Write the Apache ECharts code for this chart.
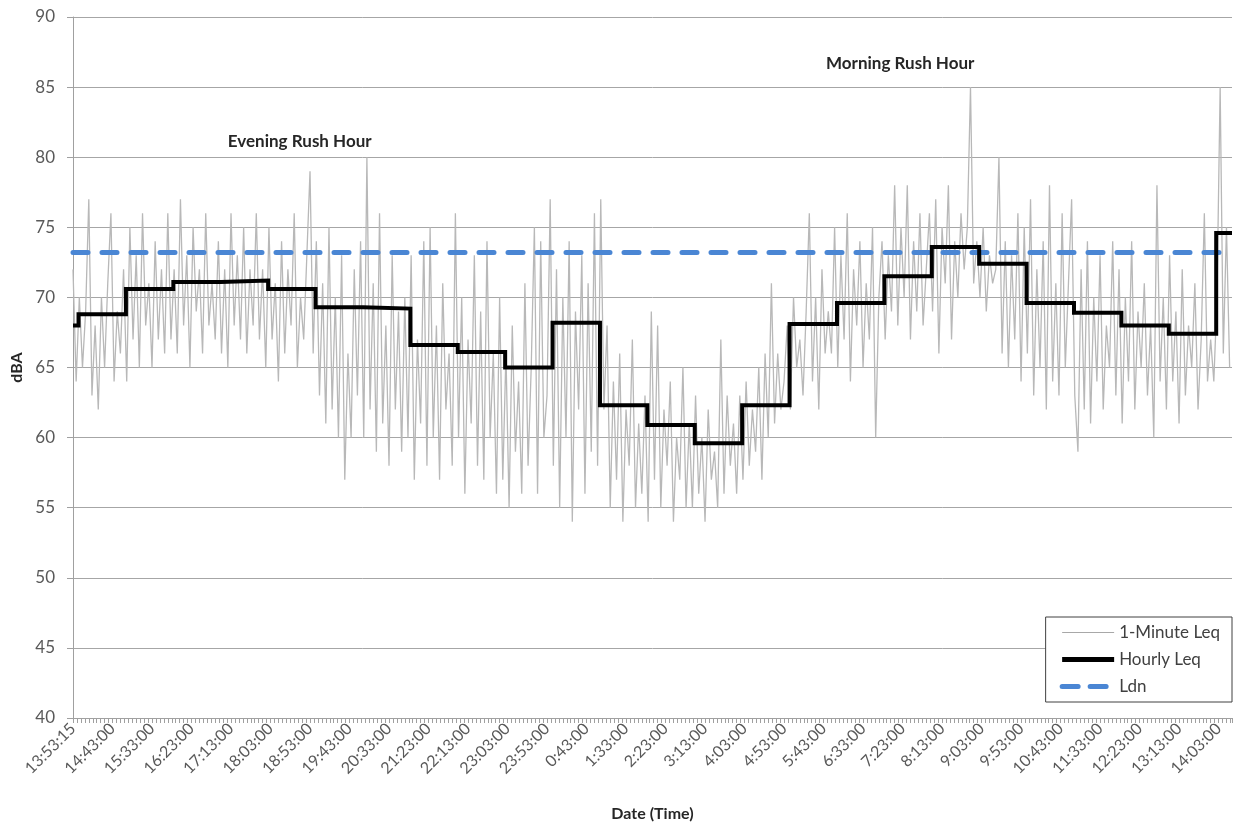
<!DOCTYPE html>
<html><head><meta charset="utf-8">
<script src="https://cdn.jsdelivr.net/npm/echarts@6/dist/echarts.min.js"></script>
<style>html,body{margin:0;padding:0;background:#fff}#c{width:1236px;height:823px}</style>
</head><body><div id="c"></div>
<script>
// x tick labels, one every 50 minutes from the start (13:53:15)
const tickLabels = ['13:53:15','14:43:00','15:33:00','16:23:00','17:13:00','18:03:00','18:53:00','19:43:00','20:33:00','21:23:00','22:13:00','23:03:00','23:53:00','0:43:00','1:33:00','2:23:00','3:13:00','4:03:00','4:53:00','5:43:00','6:33:00','7:23:00','8:13:00','9:03:00','9:53:00','10:43:00','11:33:00','12:23:00','13:13:00','14:03:00'];
const tickInterval = 50;      // minutes between labels
const xMaxMinute = 1467;      // end of axis, minutes after start
const sampleStep = 4;         // minutes between 1-minute Leq samples kept below

// 1-Minute Leq (dBA), every 4 minutes
const oneMinuteLeq = [
 72,64,70,65,69,77,63,68,62,70,65,71,76,64,69,
 66,72,64,75,67,73,65,76,68,71,65,74,67,72,66,
 76,67,72,66,77,68,73,65,75,69,72,66,76,68,71,
 67,74,66,72,65,76,68,73,67,75,66,72,68,76,67,
 72,65,75,67,71,64,74,66,72,68,76,65,70,67,73,
 79,66,74,63,71,61,75,62,70,60,73,57,66,60,72,
 63,74,60,80,62,71,59,76,61,68,58,73,62,69,59,
 70,60,73,57,67,61,74,58,75,60,68,57,71,62,66,
 58,76,60,70,56,67,61,73,58,69,57,74,60,66,56,
 70,57,66,55,68,59,64,56,71,58,65,75,56,74,60,
 63,77,58,72,55,70,60,74,54,69,62,73,56,71,59,
 76,58,77,62,68,55,64,57,66,54,62,58,67,55,61,
 56,63,54,69,57,68,55,62,58,64,54,60,57,65,55,
 61,55,63,56,60,54,62,57,59,55,67,56,63,58,61,
 56,63,57,64,58,62,59,65,57,66,60,71,61,66,62,
 64,68,62,70,65,67,63,69,76,64,70,62,72,66,69,
 66,75,65,73,67,76,64,72,68,74,65,71,67,75,60,
 70,74,67,73,69,78,68,75,70,78,67,74,69,76,68,
 72,76,69,77,66,75,71,78,67,74,70,76,72,75,85,
 71,74,70,75,69,73,71,72,80,66,74,65,73,67,76,
 64,75,66,77,63,72,65,74,62,78,64,71,63,76,65,
 71,77,63,59,72,62,74,61,70,64,73,62,68,65,74,
 63,72,61,70,64,74,62,69,65,71,63,68,60,78,64,
 70,62,73,64,69,61,72,63,68,65,71,62,67,76,64,
 67,64,70,85,66,75,65
];

// Hourly Leq (dBA): first partial hour, then each clock hour 14:00 ... 14:00
const hourlyStartMinutes = [0,7,67,127,187,247,307,367,427,487,547,607,667,727,787,847,907,967,1027,1087,1147,1207,1267,1327,1387,1447];
const hourlyLeq = [68.0,68.8,70.6,71.1,71.2,70.6,69.3,69.2,66.6,66.1,65.0,68.2,62.3,60.9,59.6,62.3,68.1,69.6,71.5,73.6,72.4,69.6,68.9,68.0,67.4,74.6];

const ldn = 73.2;

const annotations = [
  {text:'Evening Rush Hour', minute:287, value:81.1},
  {text:'Morning Rush Hour', minute:1047, value:86.7}
];

const FONT = 'Lato, "Noto Sans", sans-serif';

const grayData = oneMinuteLeq.map((v,i)=>[i*sampleStep, v]);
const hourlyData = hourlyLeq.map((v,i)=>[hourlyStartMinutes[i], v]);
hourlyData.push([xMaxMinute, hourlyLeq[hourlyLeq.length-1]]);
const ldnData = [[0, ldn],[xMaxMinute, ldn]];

const chart = echarts.init(document.getElementById('c'), null, {renderer:'canvas'});
chart.setOption({
  animation:false,
  backgroundColor:'#fff',
  textStyle:{fontFamily:FONT},
  grid:{left:73, right:4, top:17, bottom:105, containLabel:false, outerBoundsMode:'none'},
  legend:{
    orient:'vertical', right:4, bottom:121,
    backgroundColor:'#fff', borderColor:'#404040', borderWidth:1,
    padding:[7,12,7,14], itemGap:10, itemWidth:52, itemHeight:16,
    itemStyle:{opacity:0, borderWidth:0},
    textStyle:{fontFamily:FONT, fontSize:17, color:'#404040'},
    data:[
      {name:'1-Minute Leq', lineStyle:{width:1, color:'#a8a8a8'}},
      {name:'Hourly Leq', lineStyle:{width:5, color:'#000'}},
      {name:'Ldn', lineStyle:{width:5, color:'#4a86d4', type:[16,12], cap:'round'}}
    ]
  },
  xAxis:{
    type:'value', min:0, max:xMaxMinute, interval:tickInterval,
    name:'Date (Time)', nameLocation:'middle', nameGap:88,
    nameTextStyle:{fontFamily:FONT, fontSize:16, fontWeight:'bold', color:'#262626'},
    axisLine:{show:true, lineStyle:{color:'#a0a0a0', width:1}},
    axisTick:{show:true, length:5, lineStyle:{color:'#a0a0a0'}},
    minorTick:{show:true, splitNumber:10, length:5, lineStyle:{color:'#a0a0a0'}},
    splitLine:{show:false},
    axisLabel:{
      rotate:45, fontSize:16, color:'#595959', margin:8, fontFamily:FONT,
      formatter:function(v){ return (v % tickInterval === 0) ? (tickLabels[v/tickInterval] || '') : ''; }
    }
  },
  yAxis:{
    type:'value', min:40, max:90, interval:5,
    name:'dBA', nameLocation:'middle', nameGap:47, nameRotate:90,
    nameTextStyle:{fontFamily:FONT, fontSize:16, fontWeight:'bold', color:'#262626'},
    axisLine:{show:true, lineStyle:{color:'#a0a0a0', width:1}},
    axisTick:{show:true, length:6, lineStyle:{color:'#a0a0a0'}},
    splitLine:{show:true, lineStyle:{color:'#a6a6a6', width:1}},
    axisLabel:{fontSize:17, color:'#595959', margin:18, fontFamily:FONT}
  },
  series:[
    {
      name:'1-Minute Leq', type:'line', data:grayData, symbol:'none', z:2,
      lineStyle:{color:'#b8b8b8', width:1.3}, itemStyle:{color:'#b8b8b8'}
    },
    {
      name:'Hourly Leq', type:'line', step:'end', data:hourlyData, symbol:'none', z:4,
      lineStyle:{color:'#000', width:4, join:'miter'}, itemStyle:{color:'#000'}
    },
    {
      name:'Ldn', type:'line', data:ldnData, symbol:'none', z:3,
      lineStyle:{color:'#4a86d4', width:5, type:[15,14], cap:'round'}, itemStyle:{color:'#4a86d4'},
      markPoint:{
        symbol:'rect', symbolSize:1, itemStyle:{color:'rgba(0,0,0,0)'},
        label:{show:true, position:'inside', formatter:'{b}', fontFamily:FONT, fontSize:17, fontWeight:'bold', color:'#262626'},
        data:annotations.map(a=>({name:a.text, coord:[a.minute, a.value]}))
      }
    }
  ]
});
</script></body></html>
